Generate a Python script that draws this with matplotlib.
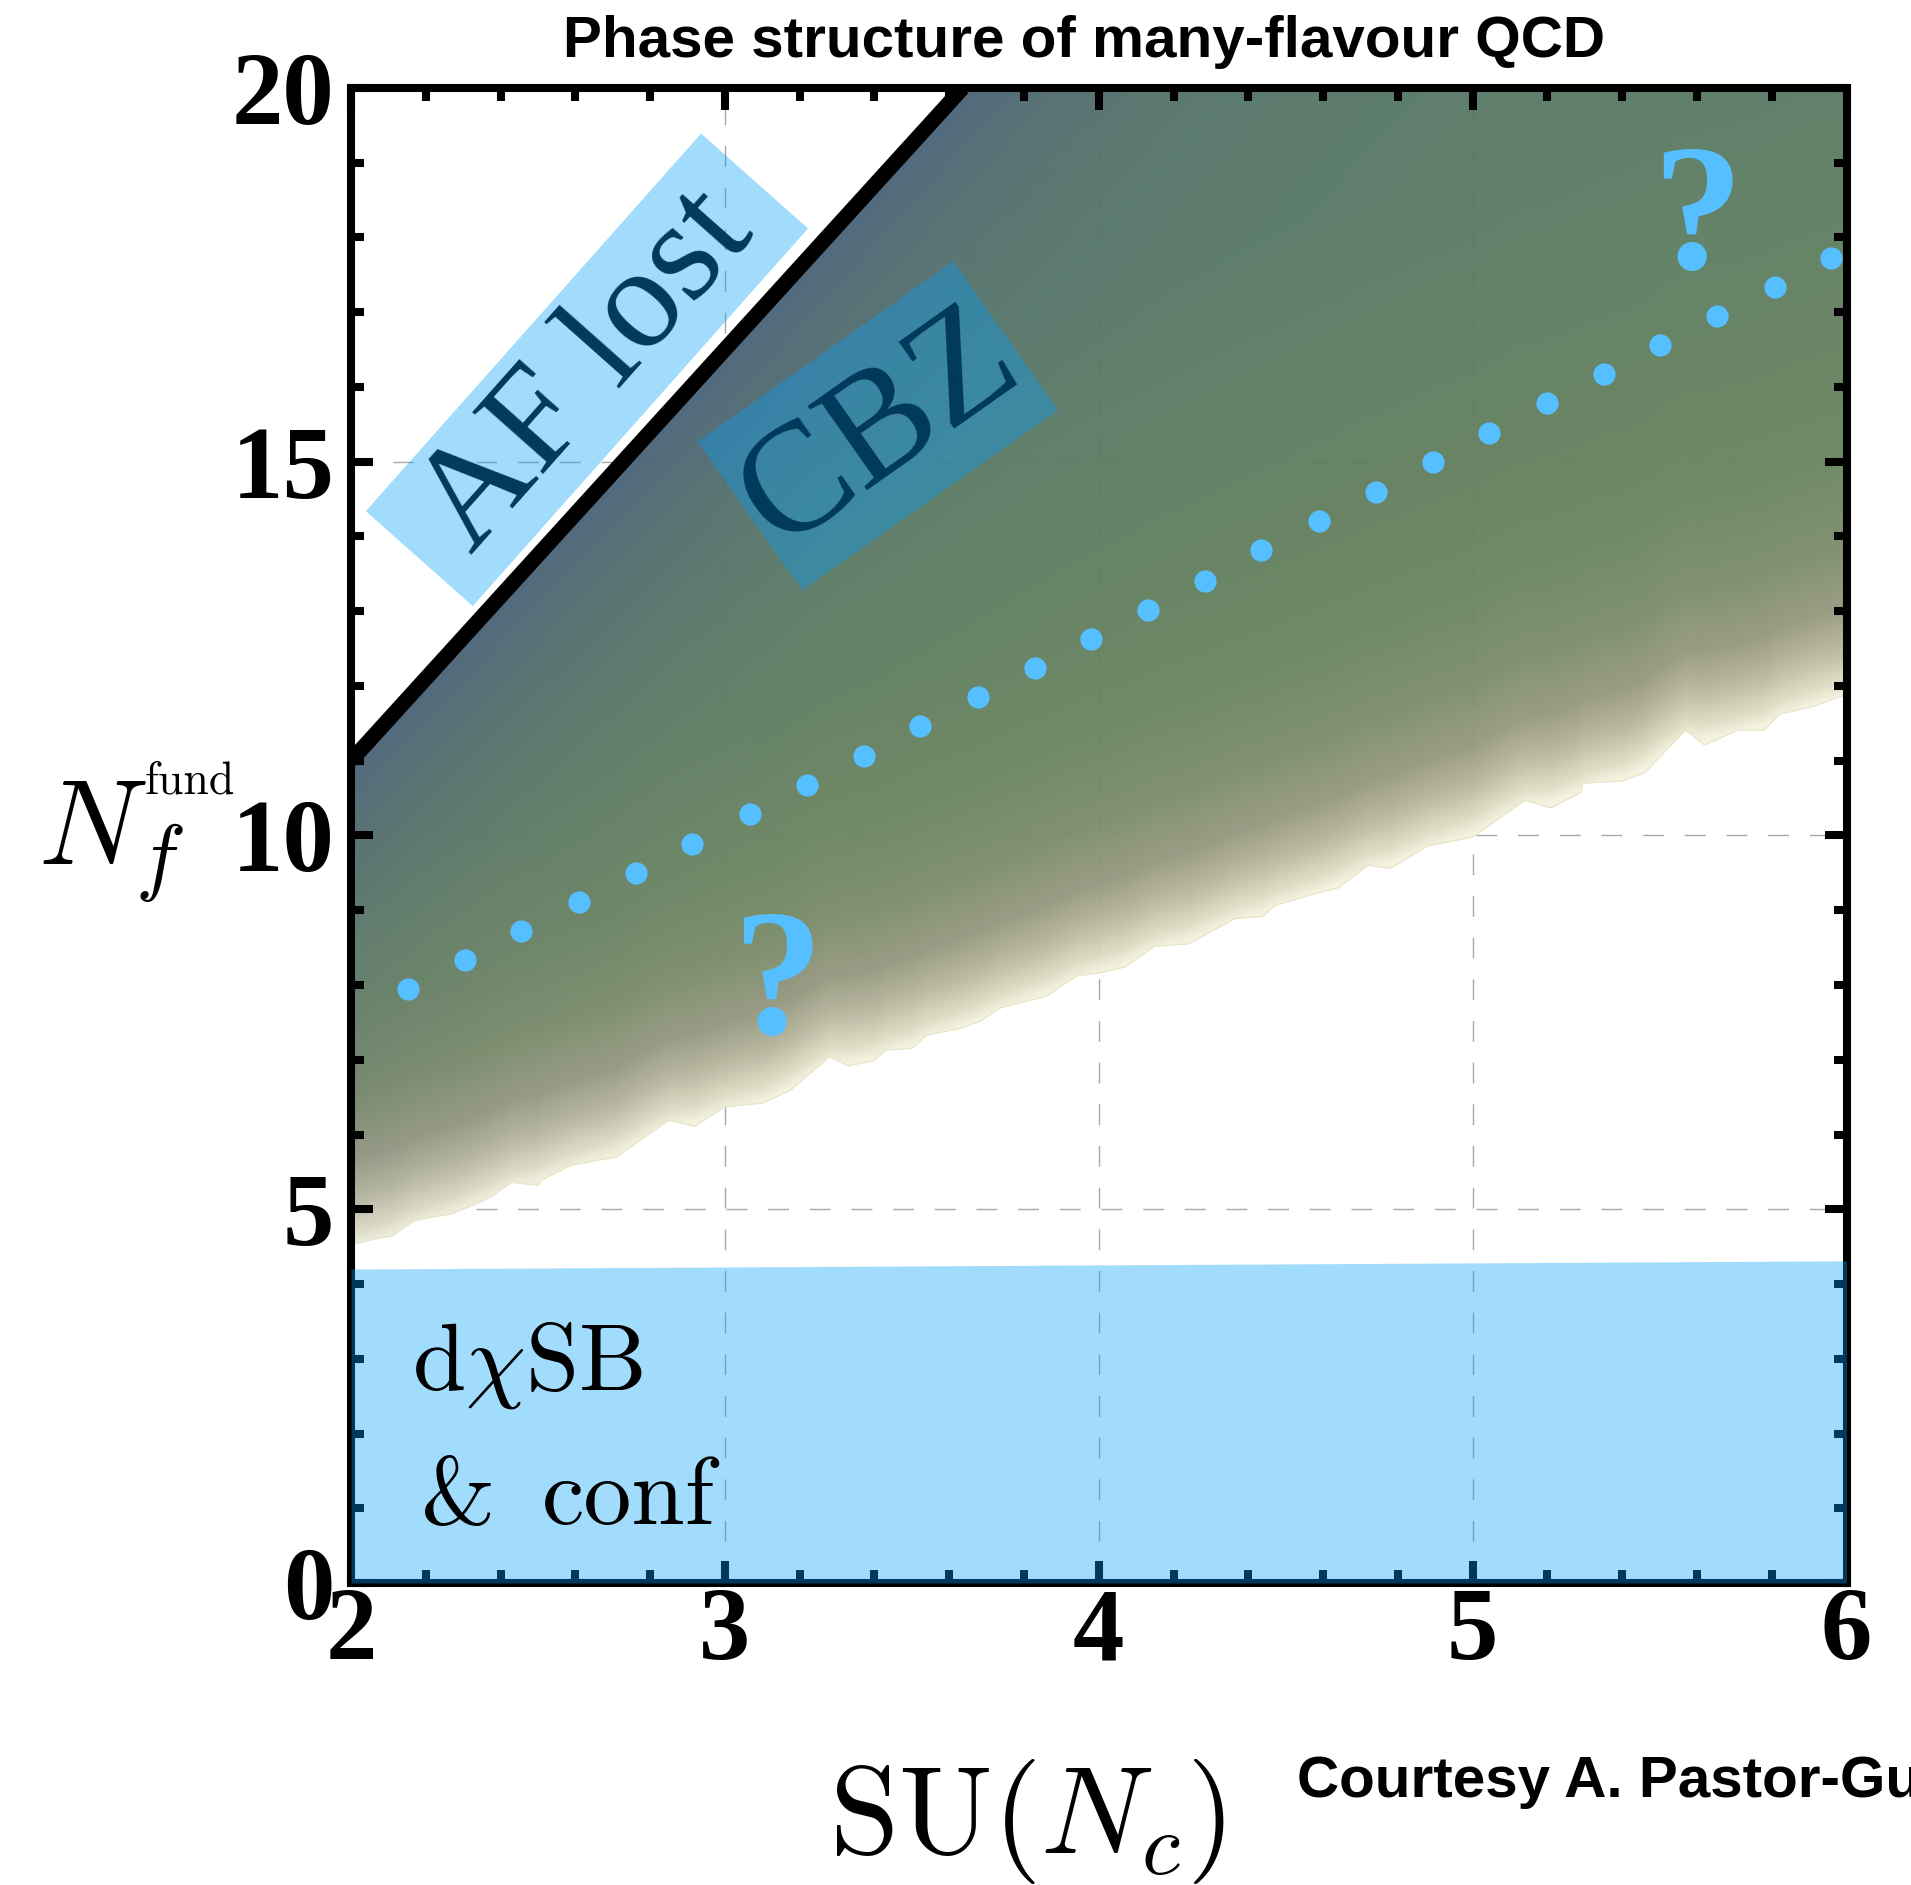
import numpy as np
import matplotlib
matplotlib.use("Agg")
import matplotlib.pyplot as plt
import matplotlib.transforms as mtransforms
from matplotlib.patches import Polygon, Rectangle

plt.rcParams['mathtext.fontset'] = 'cm'

# ---------------- data ----------------
xlim = (2, 6)
ylim = (0, 20)
x_major = [2, 3, 4, 5, 6]
y_major = [0, 5, 10, 15, 20]
x_ticklabels = ["2", "3", "4", "5", "6"]
y_ticklabels = ["0", "5", "10", "15", "20"]

# loss of asymptotic freedom: Nf = 11/2 Nc
af_nc = [2.0, 3.636]
af_nf = [11.0, 20.0]

# lower edge of the conformal window (shaded region)
lower_nc = [2.00, 2.07, 2.11, 2.17, 2.27, 2.30, 2.37, 2.43, 2.50, 2.51, 2.59, 2.71,
            2.85, 2.92, 3.00, 3.10, 3.175, 3.28, 3.33, 3.40, 3.43, 3.50, 3.54, 3.63,
            3.68, 3.74, 3.86, 3.94, 4.00, 4.07, 4.15, 4.24, 4.365, 4.44, 4.47, 4.57,
            4.64, 4.72, 4.78, 4.88, 5.00, 5.14, 5.21, 5.29, 5.295, 5.40, 5.46, 5.57,
            5.62, 5.71, 5.78, 5.82, 5.92, 6.00]
lower_nf = [4.52, 4.61, 4.64, 4.85, 4.94, 5.00, 5.15, 5.36, 5.32, 5.39, 5.59, 5.70,
            6.19, 6.11, 6.37, 6.42, 6.59, 7.04, 6.92, 6.99, 7.13, 7.15, 7.33, 7.42,
            7.51, 7.70, 7.85, 8.12, 8.16, 8.24, 8.52, 8.55, 8.89, 8.92, 9.06, 9.21,
            9.30, 9.60, 9.56, 9.86, 9.98, 10.47, 10.37, 10.58, 10.70, 10.73, 10.84, 11.41,
            11.21, 11.41, 11.41, 11.62, 11.74, 11.89]

# dotted estimate
dot_nc = [2.153, 2.306, 2.456, 2.610, 2.763, 2.913, 3.066, 3.219, 3.372, 3.522,
          3.676, 3.829, 3.979, 4.132, 4.285, 4.435, 4.588, 4.742, 4.895, 5.045,
          5.198, 5.351, 5.501, 5.654, 5.808, 5.958]
dot_nf = [7.94, 8.33, 8.72, 9.11, 9.50, 9.89, 10.29, 10.68, 11.07, 11.46,
          11.85, 12.24, 12.63, 13.02, 13.41, 13.82, 14.21, 14.60, 15.00, 15.39,
          15.78, 16.17, 16.56, 16.95, 17.34, 17.73]

# chiral-symmetry-breaking band
band_nc = [2.0, 6.0]
band_top = [4.20, 4.31]

# question marks
q_nc = [3.14, 5.60]
q_nf = [7.36, 17.59]

# ---------------- figure ----------------
W, H = 1911, 1885
fig = plt.figure(figsize=(W / 100, H / 100), dpi=100)
ax = fig.add_axes([351 / W, 302 / H, 1495.5 / W, 1495 / H])
ax.set_xlim(*xlim)
ax.set_ylim(*ylim)

# grid (manual, below the shading)
for xv in x_major[1:-1]:
    ax.axvline(xv, color='#a8a8a8', lw=1.0, ls=(0, (15, 15)), zorder=0.5)
for yv in y_major[1:-1]:
    ax.axhline(yv, color='#a8a8a8', lw=1.0, ls=(0, (15, 15)), zorder=0.5)

# gradient shading between lower edge and AF line
nx, ny = 800, 1000
gx = np.linspace(xlim[0], xlim[1], nx)
gy = np.linspace(ylim[0], ylim[1], ny)
GX, GY = np.meshgrid(gx, gy)
low_fine = np.interp(gx, lower_nc, lower_nf)
kw = 41
pad = np.concatenate([np.full(kw // 2, low_fine[0]), low_fine, np.full(kw // 2, low_fine[-1])])
low_smooth = np.convolve(pad, np.ones(kw) / kw, mode='valid')
low_mix = 0.35 * low_fine + 0.65 * low_smooth
d = GY - low_mix[None, :]
slope = (af_nf[1] - af_nf[0]) / (af_nc[1] - af_nc[0])
s = af_nf[0] + slope * (GX - af_nc[0]) - GY
d_stops = [0.0, 0.18, 0.6, 1.15, 2.0, 3.2, 5.0, 9.0]
c_stops = np.array([(246, 244, 224), (226, 224, 199), (188, 187, 162), (152, 154, 128),
                    (124, 141, 105), (107, 134, 96), (98, 128, 94), (89, 122, 101)]) / 255.
rgb = np.zeros((ny, nx, 3))
for k in range(3):
    rgb[..., k] = np.interp(d, d_stops, c_stops[:, k])
blue = np.array([72, 95, 124]) / 255.
w = 0.9 * np.exp(-np.clip(s, 0, None) / 2.5)
rgb = rgb * (1 - w[..., None]) + blue * w[..., None]
im = ax.imshow(rgb, extent=[xlim[0], xlim[1], ylim[0], ylim[1]], origin='lower',
               aspect='auto', interpolation='bilinear', zorder=1, alpha=0.96)
verts = list(zip(lower_nc, lower_nf)) + [(xlim[1], ylim[1]), (af_nc[1], af_nf[1]),
                                          (af_nc[0], af_nf[0])]
clip_poly = Polygon(verts, closed=True, transform=ax.transData)
im.set_clip_path(clip_poly)
ax.plot(lower_nc, lower_nf, color='#e8e6c8', lw=1.0, zorder=1.2)

# AF line
ax.plot(af_nc, af_nf, color='black', lw=11, solid_capstyle='butt', zorder=2)

# dots
ax.plot(dot_nc, dot_nf, 'o', ms=16, color='#55bfff', mec='none', zorder=4)

# question marks
for qx, qy in zip(q_nc, q_nf):
    ax.text(qx, qy, "?", fontsize=130, fontweight='bold', family='Liberation Serif',
            color='#55bfff', ha='center', va='baseline', zorder=4)

# translucent label boxes
box_rgb = (0, 159 / 255, 252 / 255)
box_alpha = 0.365


def rot_box(cx, cy, wpx, hpx, ang):
    tr = (mtransforms.Affine2D().rotate_deg(ang)
          + mtransforms.ScaledTranslation(cx, cy, ax.transData))
    r = Rectangle((-wpx / 2, -hpx / 2), wpx, hpx, transform=tr, facecolor=box_rgb,
                  alpha=box_alpha, lw=0, zorder=3.5)
    ax.add_patch(r)


rot_box(2.631, 16.23, 505, 143, 48.4)
ax.text(2.635, 16.20, "AF lost", rotation=48.4, rotation_mode='anchor', ha='center',
        va='center', fontsize=104, family='Liberation Serif', color='black', zorder=3)
rot_box(3.409, 15.48, 313, 182, 35.2)
ax.text(3.415, 15.42, "CBZ", rotation=35.2, rotation_mode='anchor', ha='center',
        va='center', fontsize=112, family='Liberation Serif', color='black', zorder=3)

# chiral band
ax.fill_between(band_nc, [0, 0], band_top, color=box_rgb, alpha=box_alpha, lw=0, zorder=3)
ax.text(2.163, 2.59, r"$\mathrm{d}\chi\mathrm{SB}$", fontsize=69, ha='left',
        va='baseline', color='black', zorder=5)
ax.text(2.186, 0.79, "&", fontsize=69, family='cmr10', ha='left',
        va='baseline', color='black', zorder=5)
ax.text(2.511, 0.79, "conf", fontsize=69, family='cmr10', ha='left',
        va='baseline', color='black', zorder=5)

# spines and ticks
for sp in ax.spines.values():
    sp.set_linewidth(5.8)
    sp.set_zorder(2.5)
ax.set_xticks(x_major)
ax.set_yticks(y_major)
ax.set_xticks(np.arange(2.2, 6, 0.2), minor=True)
ax.set_yticks(np.arange(1, 20, 1), minor=True)
ax.set_xticklabels(x_ticklabels, fontsize=74, fontweight='bold', family='Liberation Serif')
ax.set_yticklabels(y_ticklabels, fontsize=74, fontweight='bold', family='Liberation Serif')
ax.tick_params(which='both', direction='in', top=True, right=True, width=5.8)
ax.tick_params(which='major', length=16)
ax.tick_params(which='minor', length=9.4)
ax.tick_params(axis='x', which='major', pad=3)
ax.tick_params(axis='y', which='major', pad=12)

# titles and labels
fig.text(1084 / W, 1 - 57 / H, "Phase structure of many-flavour QCD", fontsize=42,
         fontweight='bold', family='Liberation Sans', ha='center', va='baseline')
fig.text(1297 / W, 1 - 1797 / H, "Courtesy A. Pastor-Gutiérrez", fontsize=42,
         fontweight='bold', family='Liberation Sans', ha='left', va='baseline')
fig.text(38 / W, 1 - 865 / H, r"$N_f$", fontsize=87, ha='left', va='baseline')
fig.text(145 / W, 1 - 793 / H, "fund", fontsize=33, family='cmr10', ha='left',
         va='baseline')
fig.text(829 / W, 1 - 1853 / H, r"$\mathrm{SU}(N_c)$", fontsize=90, ha='left',
         va='baseline')

fig.savefig("out.png", dpi=100)
